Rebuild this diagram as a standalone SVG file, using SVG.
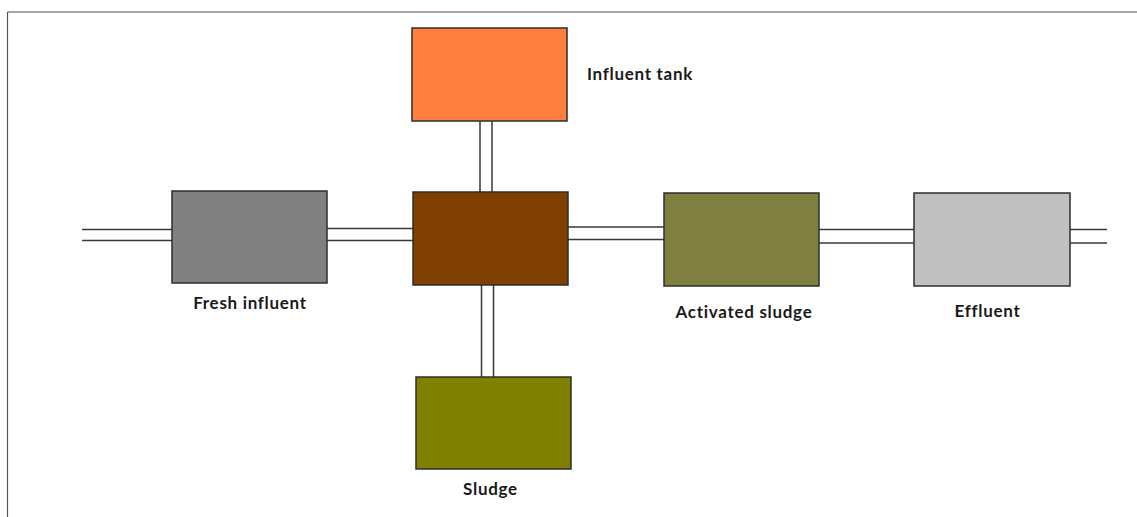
<svg xmlns="http://www.w3.org/2000/svg" width="1137" height="517" viewBox="0 0 1137 517">
<style>
.box{stroke:#2e2e2e;stroke-width:1.5}
.pipe{stroke:#3a3a3a;stroke-width:1.5;fill:none}
.lbl{font-family:Lato,"Open Sans",sans-serif;font-weight:bold;font-size:17px;letter-spacing:0.7px;fill:#1a1a1a}
</style>
<rect width="1137" height="517" fill="#ffffff"/>
<g id="frame">
<line x1="7.5" y1="12" x2="1137" y2="12" stroke="#8a8a8a" stroke-width="1.5"/>
<line x1="7.5" y1="12" x2="7.5" y2="517" stroke="#555" stroke-width="1.2"/>
</g>
<g id="connectors">
<path class="pipe" d="M82 229.5H172M82 240.5H172"/>
<path class="pipe" d="M327 228.5H413M327 240.5H413"/>
<path class="pipe" d="M568 227H664M568 239.5H664"/>
<path class="pipe" d="M819 229.5H914M819 243H914"/>
<path class="pipe" d="M1070 229.5H1107M1070 243H1107"/>
<path class="pipe" d="M480 121V192M492 121V192"/>
<path class="pipe" d="M481.5 285V377M493.5 285V377"/>
</g>
<g id="influent-tank">
<rect class="box" x="412" y="28" width="155" height="93" fill="#ff7f3f"/>
<text class="lbl" x="587" y="80">Influent tank</text>
</g>
<g id="fresh-influent">
<rect class="box" x="172" y="191" width="155" height="92" fill="#808080"/>
<text class="lbl" x="250" y="309" text-anchor="middle">Fresh influent</text>
</g>
<g id="mixer">
<rect class="box" x="413" y="192" width="155" height="93" fill="#7f3f00"/>
</g>
<g id="activated-sludge">
<rect class="box" x="664" y="193" width="155" height="93" fill="#7f7f3f"/>
<text class="lbl" x="744" y="318" text-anchor="middle">Activated sludge</text>
</g>
<g id="effluent">
<rect class="box" x="914" y="193" width="156" height="93" fill="#c0c0c0"/>
<text class="lbl" x="987.5" y="317" text-anchor="middle">Effluent</text>
</g>
<g id="sludge">
<rect class="box" x="416" y="377" width="155" height="92" fill="#808000"/>
<text class="lbl" x="490.5" y="495" text-anchor="middle">Sludge</text>
</g>
</svg>
